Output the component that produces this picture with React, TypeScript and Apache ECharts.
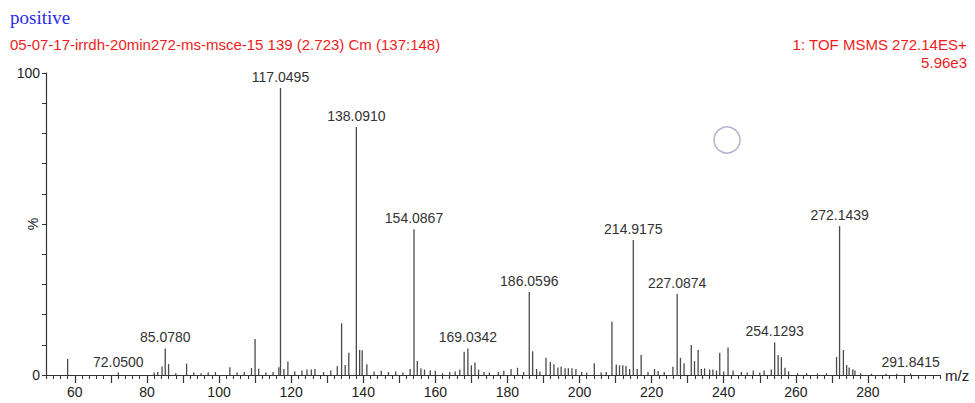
import React, { useEffect, useRef } from "react";
import * as echarts from "echarts";

// ---- data ----
const labeledMz = [72.05, 85.078, 117.0495, 138.091, 154.0867, 169.0342, 186.0596, 214.9175, 227.0874, 254.1293, 272.1439, 291.8415];
const labeledInt = [0.8, 8.8, 95.0, 82.1, 48.3, 8.8, 27.5, 44.7, 26.8, 10.8, 49.3, 0.5];
const labeledText = ["72.0500", "85.0780", "117.0495", "138.0910", "154.0867", "169.0342", "186.0596", "214.9175", "227.0874", "254.1293", "272.1439", "291.8415"];

const otherMz = [
  58.0, 82.0, 83.0, 84.2, 86.0, 88.0, 91.0, 93.0, 95.0, 97.0, 99.0, 103.0, 105.0, 107.0, 109.0, 110.0, 111.0,
  113.0, 115.0, 116.6, 118.0, 119.1, 121.0, 123.0, 124.4, 125.6, 126.6, 129.0, 131.0, 132.8, 134.0, 135.0, 136.0,
  139.0, 139.7, 141.0, 143.0, 145.0, 147.0, 149.0, 151.0, 153.0, 155.0, 156.0, 157.0, 158.6, 160.0, 162.0, 164.0,
  165.5, 166.8, 168.0, 170.0, 171.0, 172.0, 173.5, 175.0, 177.5, 179.0, 181.0, 182.8, 184.5, 187.0, 188.1, 189.0,
  190.7, 191.9, 192.9, 194.0, 194.9, 196.0, 196.9, 197.9, 199.0, 200.6, 202.0, 204.1, 206.0, 207.4, 209.0, 210.2,
  211.1, 212.0, 212.9, 213.9, 216.0, 217.1, 219.0, 220.8, 221.8, 223.5, 225.9, 228.0, 229.0, 231.0, 231.9, 232.9,
  233.8, 234.7, 236.1, 237.0, 238.0, 238.9, 240.0, 241.2, 242.6, 244.9, 246.5, 248.2, 250.0, 251.2, 253.2, 255.1,
  256.0, 257.0, 258.0, 260.5, 263.0, 266.0, 268.5, 271.3, 273.2, 274.1, 274.8, 275.8, 276.4, 278.0, 281.0, 285.0, 288.0,
];
const otherInt = [
  5.3, 0.8, 1.0, 2.8, 3.6, 0.6, 3.8, 0.8, 0.6, 0.8, 1.0, 2.6, 0.8, 1.0, 2.3, 11.9, 2.1,
  0.8, 1.0, 2.6, 2.0, 4.5, 1.2, 1.5, 1.8, 1.8, 2.0, 1.0, 1.5, 2.9, 17.1, 3.3, 7.4,
  8.3, 8.2, 3.6, 1.2, 1.4, 1.0, 1.2, 0.8, 2.0, 4.6, 2.2, 1.8, 1.6, 1.4, 0.6, 1.0,
  1.2, 1.8, 7.7, 3.2, 4.1, 1.8, 1.0, 0.8, 1.0, 1.4, 2.0, 2.4, 1.0, 7.9, 2.0, 1.2,
  5.7, 4.3, 3.6, 2.5, 2.7, 2.2, 2.2, 2.2, 2.0, 1.0, 0.8, 3.9, 0.8, 1.0, 17.6, 3.5,
  3.2, 3.2, 3.0, 2.0, 2.0, 6.6, 1.0, 2.0, 1.3, 1.0, 2.7, 5.7, 3.9, 9.9, 4.6, 8.3,
  2.0, 2.2, 1.8, 1.8, 1.5, 7.4, 1.2, 9.1, 1.5, 1.0, 0.8, 1.5, 0.8, 1.5, 1.8, 6.6,
  5.9, 2.4, 1.2, 0.6, 0.6, 0.5, 0.6, 6.0, 8.3, 3.3, 2.5, 1.8, 1.5, 0.6, 0.4, 0.4, 0.4,
];

const xLabelValues = [60, 80, 100, 120, 140, 160, 180, 200, 220, 240, 260, 280];
const xMajorTickValues = [60, 70, 80, 90, 100, 110, 120, 130, 140, 150, 160, 170, 180, 190, 200, 210, 220, 230, 240, 250, 260, 270, 280, 290];

const headerTitle = "positive";
const headerLeft = "05-07-17-irrdh-20min272-ms-msce-15 139 (2.723) Cm (137:148)";
const headerRight1 = "1: TOF MSMS 272.14ES+";
const headerRight2 = "5.96e3";

const FONT = "'Liberation Sans', Arial, sans-serif";

export default function App() {
  const ref = useRef<HTMLDivElement>(null);
  useEffect(() => {
    document.body.style.margin = "0";
    if (!ref.current) return;
    const chart = echarts.init(ref.current, undefined, { renderer: "svg" });

    const data: any[] = [];
    otherMz.forEach((m, i) => data.push({ value: [m, otherInt[i]] }));
    labeledMz.forEach((m, i) =>
      data.push({
        value: [m, labeledInt[i]],
        label: { show: true, formatter: labeledText[i] },
      })
    );
    data.sort((a, b) => a.value[0] - b.value[0]);

    const common = { min: 52, max: 300, type: "value" as const, gridIndex: 0 };

    chart.setOption({
      animation: false,
      grid: { left: 46, right: 35, top: 73, bottom: 28, containLabel: false, outerBoundsMode: "none" },
      xAxis: [
        {
          ...common,
          position: "bottom",
          name: "m/z",
          nameLocation: "end",
          nameGap: 5,
          nameTextStyle: { fontFamily: FONT, fontSize: 15, color: "#222", padding: [6, 0, 0, 0] },
          axisLine: { show: true, lineStyle: { color: "#333", width: 1.2 } },
          axisTick: { show: true, length: 8, customValues: xMajorTickValues, lineStyle: { color: "#333", width: 1.2 } },
          axisLabel: { show: true, customValues: xLabelValues, margin: 10, fontFamily: FONT, fontSize: 14, color: "#222" },
          splitLine: { show: false },
        },
        {
          ...common,
          interval: 2,
          position: "bottom",
          axisLine: { show: false },
          axisTick: { show: true, length: 4, lineStyle: { color: "#333", width: 1 } },
          axisLabel: { show: false },
          splitLine: { show: false },
        },
      ],
      yAxis: {
        type: "value",
        min: 0,
        max: 100,
        interval: 10,
        name: "%",
        nameLocation: "middle",
        nameGap: 6,
        nameRotate: 90,
        nameMoveOverlap: false,
        nameTextStyle: { fontFamily: FONT, fontSize: 14, color: "#222" },
        axisLine: { show: true, lineStyle: { color: "#333", width: 1.2 } },
        axisTick: { show: true, length: 4, lineStyle: { color: "#333" } },
        axisLabel: {
          margin: 6,
          fontFamily: FONT,
          fontSize: 14,
          color: "#222",
          formatter: (v: number) => (v === 0 || v === 100 ? String(v) : ""),
        },
        splitLine: { show: false },
      },
      series: [
        {
          type: "bar",
          xAxisIndex: 0,
          yAxisIndex: 0,
          barWidth: 1.3,
          itemStyle: { color: "#4a4a4a" },
          label: {
            show: false,
            position: "top",
            distance: 4,
            fontFamily: FONT,
            fontSize: 14,
            color: "#333",
          },
          data,
        },
      ],
      graphic: [
        {
          type: "text",
          left: 10,
          top: 8,
          style: { text: headerTitle, fill: "#2a2ae8", font: "19px 'Liberation Serif', 'Times New Roman', serif" },
        },
        {
          type: "text",
          left: 10,
          top: 37,
          style: { text: headerLeft, fill: "#ee1c1c", font: `15px ${FONT}` },
        },
        {
          type: "text",
          right: 8,
          top: 37,
          style: { text: headerRight1, fill: "#ee1c1c", font: `15px ${FONT}`, align: "right" },
        },
        {
          type: "text",
          right: 8,
          top: 55,
          style: { text: headerRight2, fill: "#ee1c1c", font: `15px ${FONT}`, align: "right" },
        },
        {
          type: "circle",
          shape: { cx: 727, cy: 140, r: 13 },
          style: { fill: "none", stroke: "#b4b4cc", lineWidth: 1.5 },
        },
      ],
    });
    return () => chart.dispose();
  }, []);
  return <div ref={ref} style={{ width: 975, height: 403 }} />;
}
